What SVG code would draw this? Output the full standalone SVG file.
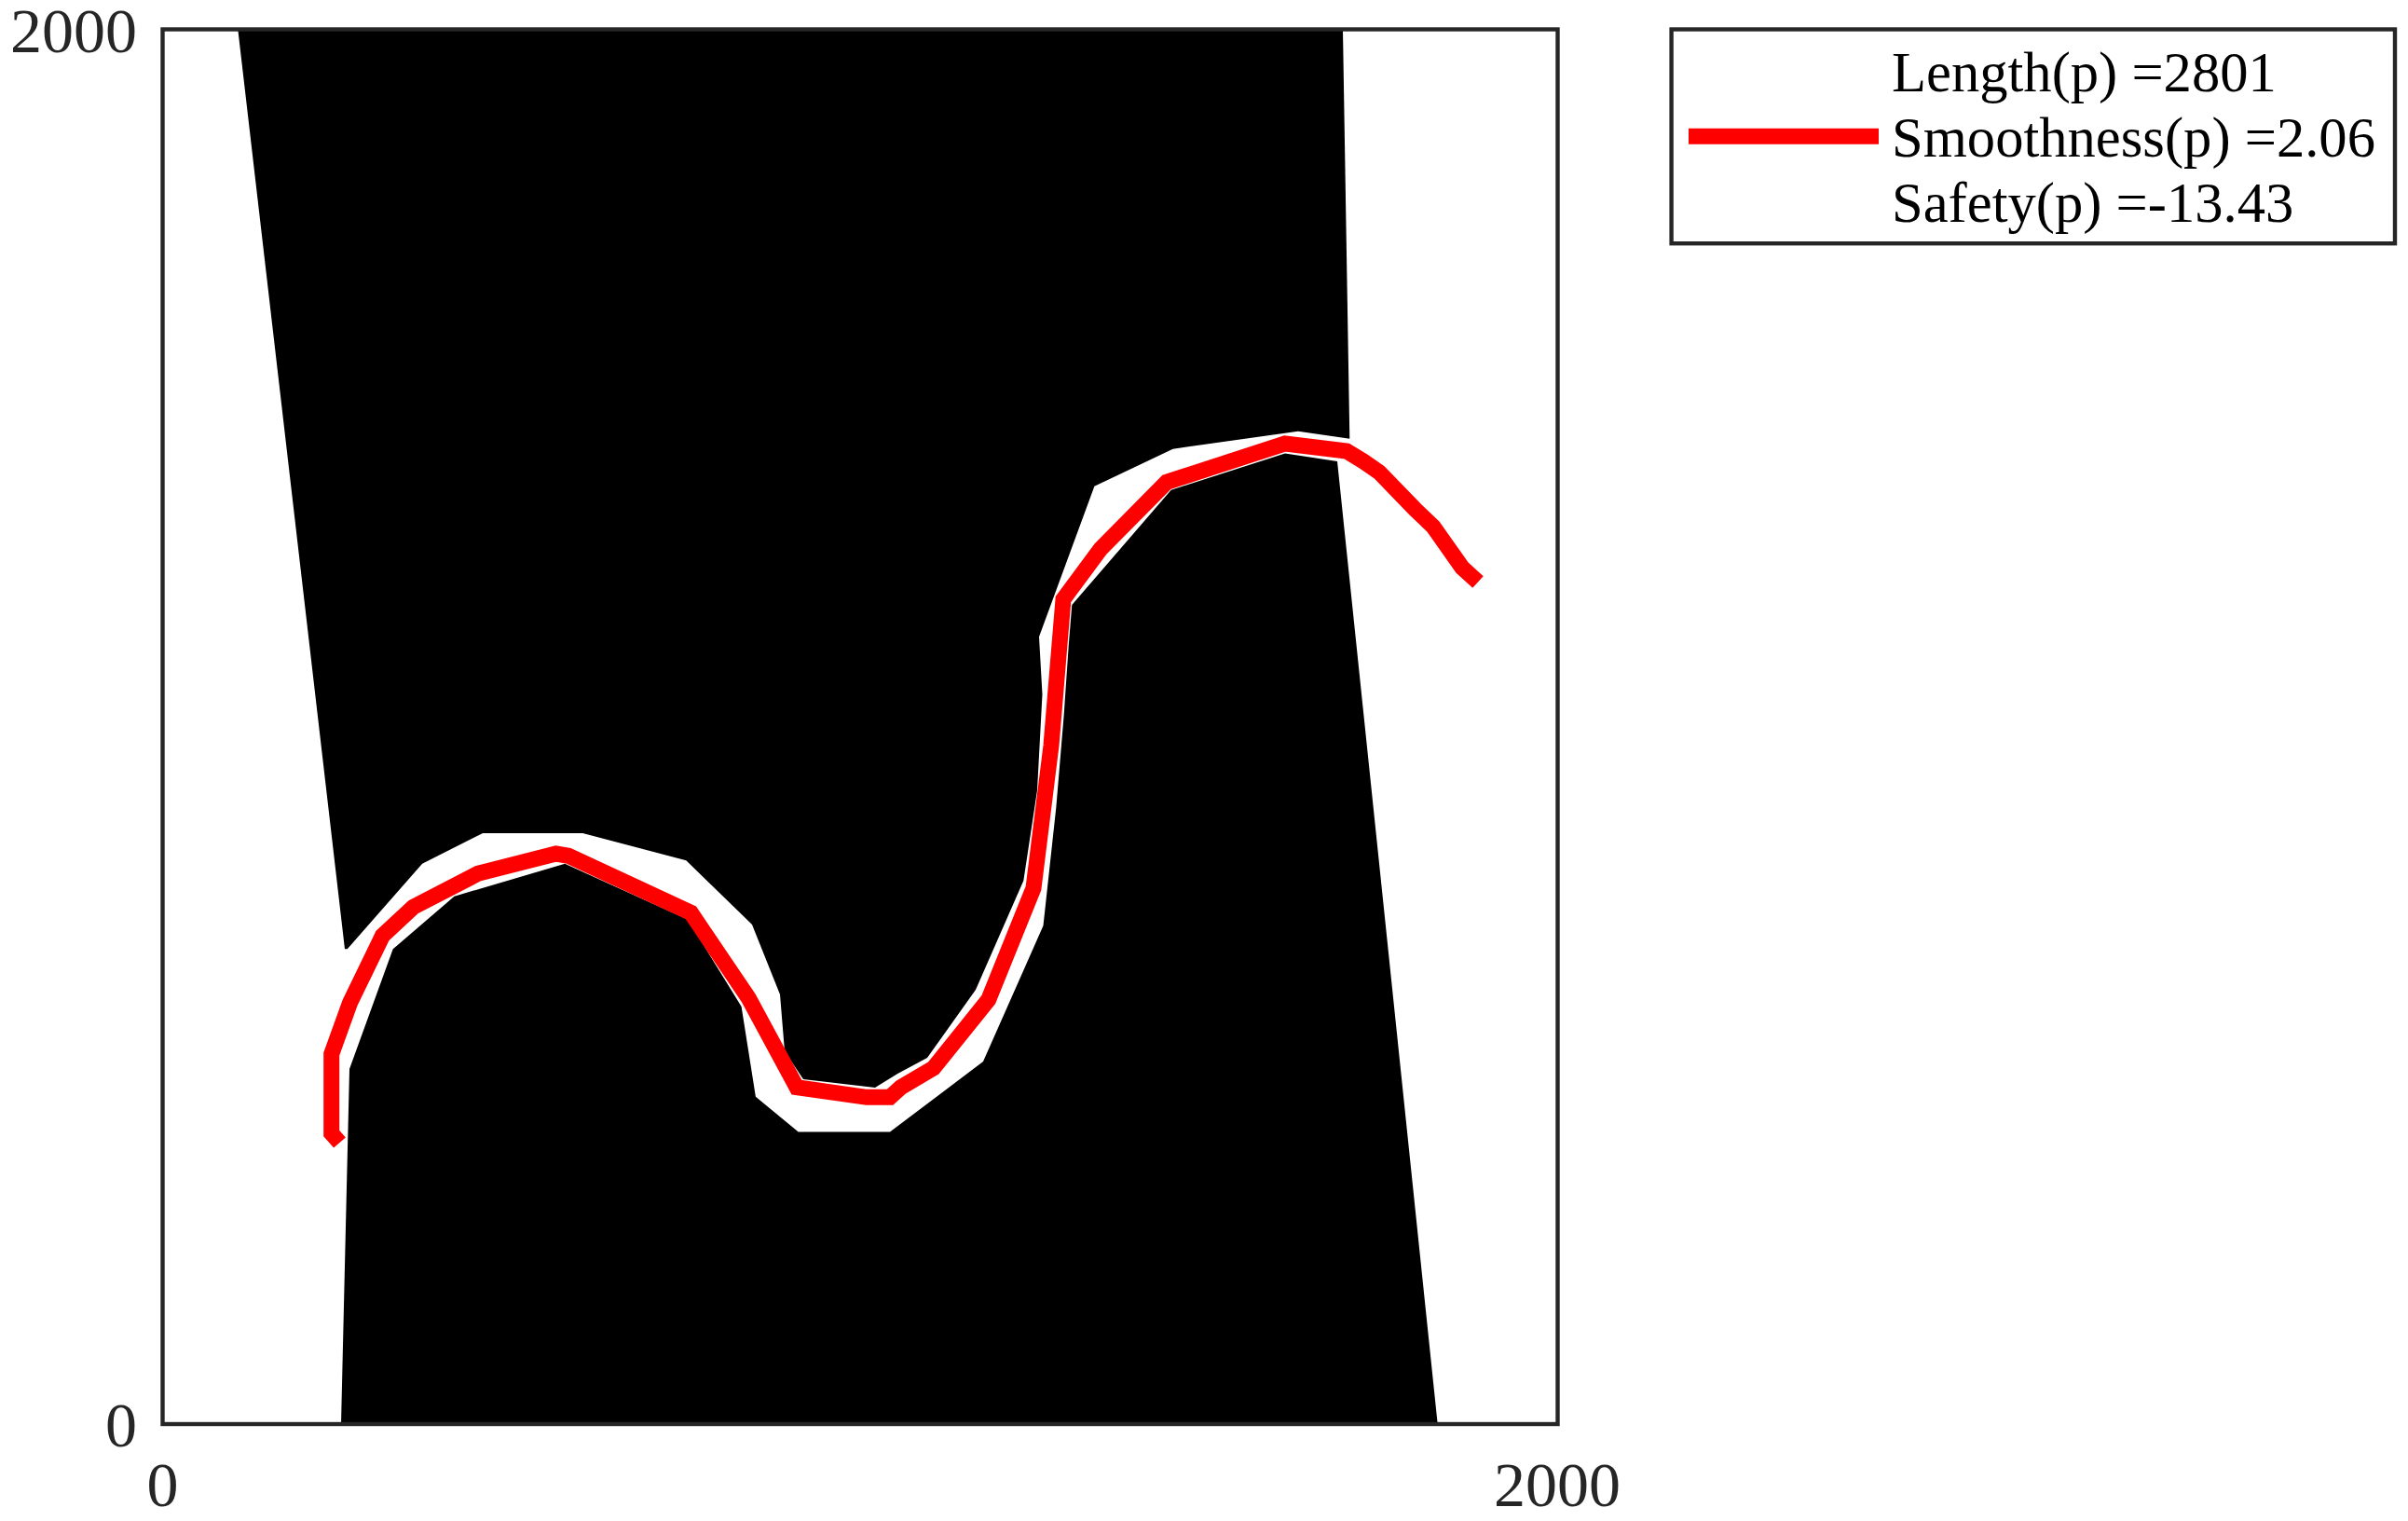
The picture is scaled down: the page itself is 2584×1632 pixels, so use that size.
<svg xmlns="http://www.w3.org/2000/svg" width="2584" height="1632" viewBox="0 0 2584 1632">
<style>
.tick{font-family:"Liberation Serif","Times New Roman",serif;font-size:68px;fill:#262626}
.leg{font-family:"Liberation Serif","Times New Roman",serif;font-size:60.6px;fill:#000}
.frame{fill:none;stroke:#262626;stroke-width:4.4}
.obs{fill:#000;stroke:none}
.path{fill:none;stroke:#ff0000;stroke-width:17;stroke-linejoin:miter;stroke-linecap:butt}
</style>
<rect x="0" y="0" width="2584" height="1632" fill="#fff"/>
<g id="obstacles">
<polygon id="upper-obstacle" class="obs" points="255.3,31.5 1441,31.5 1448.3,470.7 1393,462.7 1258.6,481.7 1174.4,521.8 1115,683.3 1118.5,745 1113,848 1098.3,945 1047,1062 995,1135 963.3,1152 939,1167 862,1158 842,1128 837,1067 807,992 736.3,923.3 625.3,894 518.1,894 453.1,926.7 372.7,1018.3 370,1018.3"/>
<polygon id="lower-obstacle" class="obs" points="366,1528 375,1147 421.7,1018.3 487.5,961.7 606.2,926.7 738.2,986.7 795.6,1080 810.9,1176.7 856.7,1214.5 955,1214.5 1055,1139 1119.5,993.3 1133.3,866.7 1141.7,766.7 1146.7,693.3 1150.3,649 1256.7,525.7 1379,486.6 1435,495 1542.7,1528"/>
</g>
<g id="connectors">
<polyline id="path-p" class="path" points="364.5,1226 355.7,1216 355.7,1131 375.5,1076 410.5,1004 443.5,973.3 513,937.3 596.6,916 610,918.3 741.3,979.3 803.3,1071 855,1166.7 930,1177.3 955,1177.3 966.7,1166.7 1001.7,1146 1060.7,1072.7 1109,953 1128,800 1141,643 1181,589 1252,517.3 1379,476 1445,484 1463,495 1480,506.7 1518,546 1538,565 1569,609 1586,624.5"/>
</g>
<g id="axes">
<rect class="frame" x="174.5" y="31.5" width="1497" height="1496.5"/>
<text class="tick" x="147" y="56" text-anchor="end">2000</text>
<text class="tick" x="147" y="1552" text-anchor="end">0</text>
<text class="tick" x="174.5" y="1616" text-anchor="middle">0</text>
<text class="tick" x="1671" y="1616" text-anchor="middle">2000</text>
</g>
<g id="legend">
<rect x="1793.6" y="31.5" width="776.4" height="229.7" fill="#fff" stroke="#262626" stroke-width="4.4"/>
<line x1="1812" y1="146.3" x2="2016" y2="146.3" stroke="#ff0000" stroke-width="17"/>
<text class="leg" x="2030" y="98">Length(p) =2801</text>
<text class="leg" x="2030" y="168">Smoothness(p) =2.06</text>
<text class="leg" x="2030" y="238">Safety(p) =-13.43</text>
</g>
</svg>
